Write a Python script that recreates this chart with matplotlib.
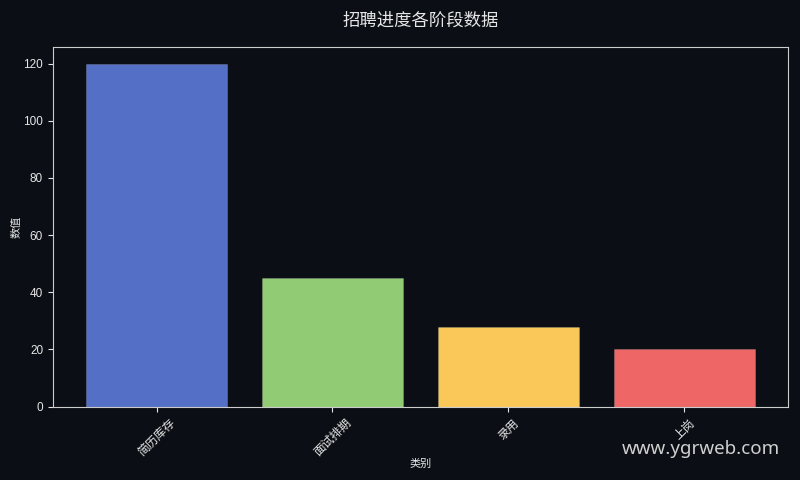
import matplotlib
matplotlib.use('Agg')
import matplotlib.pyplot as plt

categories = ['简历库存', '面试排期', '录用', '上岗']
values = [120, 45, 28, 20]
colors = ['#5470c6', '#91cc75', '#fac858', '#ee6666']

plt.rcParams['font.family'] = ['Liberation Sans', 'Noto Sans CJK SC', 'DejaVu Sans']
bg = '#0b0e14'
fg = '#e6e6e6'
cjk = ['Noto Sans CJK SC', 'DejaVu Sans']

fig = plt.figure(figsize=(8, 4.8), dpi=100, facecolor=bg)
ax = fig.add_axes([0.066, 0.153, 0.919, 0.75], facecolor=bg)
ax.bar(categories, values, width=0.8, color=colors,
       edgecolor=(1, 1, 1, 0.15), linewidth=0.8)

ax.set_title('招聘进度各阶段数据', color=fg, fontsize=12.5, pad=15, family=cjk)
ax.set_xlabel('类别', color=fg, fontsize=8, family=cjk, labelpad=0)
ax.set_ylabel('数值', color=fg, fontsize=8, family=cjk, labelpad=1)
ax.tick_params(colors=fg, labelsize=8.5)
for lab in ax.get_xticklabels():
    lab.set_rotation(45)
    lab.set_fontfamily(cjk)
for s in ax.spines.values():
    s.set_color('#cccccc')

# 水印
fig.text(0.975, 0.065, 'www.ygrweb.com', color='#d0d0d0', fontsize=13.5,
         ha='right', va='center', family=['Noto Sans', 'DejaVu Sans'])

fig.savefig('out.png', dpi=100, facecolor=bg)
